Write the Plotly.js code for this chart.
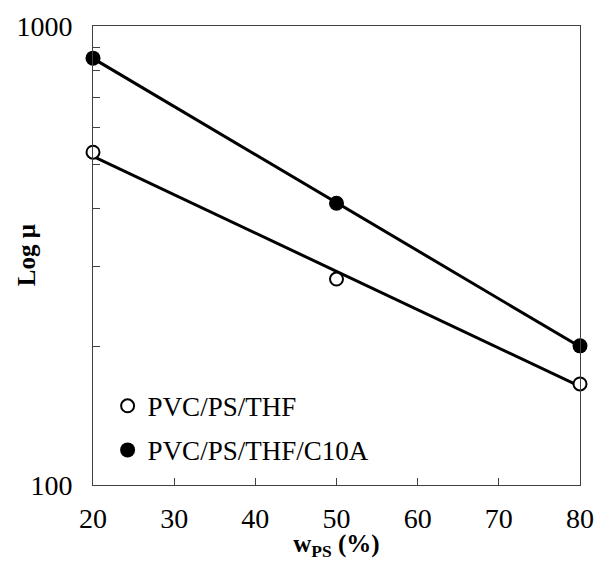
<!DOCTYPE html>
<html>
<head>
<meta charset="utf-8">
<script src="https://cdn.plot.ly/plotly-3.0.1.min.js"></script>
<style>body{margin:0;padding:0;background:#fff;} #chart{width:597px;height:561px;}</style>
</head>
<body>
<div id="chart"></div>
<script>
// Data
const wPS = [20, 50, 80];
const muOpen = [531, 281, 166];     // PVC/PS/THF
const muFilled = [851, 411, 201];   // PVC/PS/THF/C10A
// Trendline end values
const fitX = [20, 80];
const fitOpen = [520, 164];
const fitFilled = [850, 200];
const seriesNames = ['PVC/PS/THF', 'PVC/PS/THF/C10A'];
const yTickVals = [100, 1000];
const yMinorVals = [200, 300, 400, 500, 600, 700, 800, 900];
const xTickVals = [20, 30, 40, 50, 60, 70, 80];

const font = 'Liberation Serif, Times New Roman, serif';

const traces = [
  {x: fitX, y: fitOpen, mode: 'lines', line: {color: '#000', width: 3}, showlegend: false, hoverinfo: 'skip'},
  {x: fitX, y: fitFilled, mode: 'lines', line: {color: '#000', width: 3}, showlegend: false, hoverinfo: 'skip'},
  {x: wPS, y: muOpen, mode: 'markers', name: seriesNames[0], legendgroup: 'a',
   marker: {symbol: 'circle', size: 13, color: '#fff', line: {color: '#000', width: 2}}, cliponaxis: false},
  {x: wPS, y: muFilled, mode: 'markers', name: seriesNames[1], legendgroup: 'b',
   marker: {symbol: 'circle', size: 15, color: '#000', line: {color: '#000', width: 0}}, cliponaxis: false}
];

const layout = {
  width: 597, height: 561,
  margin: {l: 93, r: 17, t: 26, b: 76},
  paper_bgcolor: '#fff', plot_bgcolor: '#fff',
  font: {family: font, size: 25, color: '#000'},
  showlegend: true,
  legend: {x: 0.03, y: 0.225, xanchor: 'left', yanchor: 'top', bgcolor: 'rgba(0,0,0,0)',
           font: {family: font, size: 27, color: '#000'}, traceorder: 'grouped', tracegroupgap: 6,
           itemwidth: 30},
  xaxis: {
    range: [20, 80], tickmode: 'array', tickvals: xTickVals,
    ticks: 'inside', ticklen: 7, tickwidth: 1, tickcolor: '#404040',
    showline: true, linecolor: '#404040', linewidth: 1, mirror: true,
    showgrid: false, zeroline: false, ticklabelstandoff: 8,
    tickfont: {family: font, size: 28, color: '#000'},
    title: {text: '<b>w<sub>PS</sub> (%)</b>', font: {family: font, size: 25, color: '#000'}, standoff: 3}
  },
  yaxis: {
    type: 'log', range: [2, 3], tickmode: 'array', tickvals: yTickVals,
    ticks: 'inside', ticklen: 7, tickwidth: 1, tickcolor: '#404040',
    minor: {tickmode: 'array', tickvals: yMinorVals, ticks: 'inside', ticklen: 7, tickwidth: 1, tickcolor: '#404040', showgrid: false},
    showline: true, linecolor: '#404040', linewidth: 1, mirror: true,
    showgrid: false, zeroline: false, ticklabelstandoff: 14,
    tickfont: {family: font, size: 28, color: '#000'}
  },
  annotations: [{
    text: '<b>Log μ</b>', textangle: -90, xref: 'paper', yref: 'paper',
    x: -0.136, y: 0.5, xanchor: 'center', yanchor: 'middle', showarrow: false,
    font: {family: font, size: 25, color: '#000'}
  }]
};

Plotly.newPlot('chart', traces, layout, {displayModeBar: false, staticPlot: true});
</script>
</body>
</html>
